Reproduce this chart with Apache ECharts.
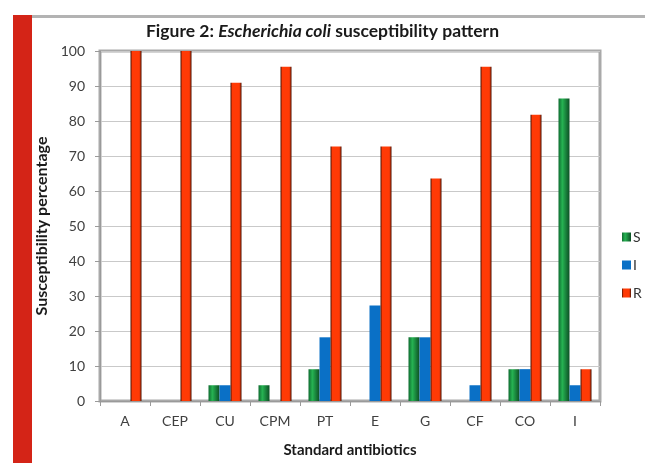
<!DOCTYPE html>
<html>
<head>
<meta charset="utf-8">
<script src="https://cdn.jsdelivr.net/npm/echarts@6/dist/echarts.min.js"></script>
<style>
html, body { margin: 0; padding: 0; background: #fff; }
#chart { width: 645px; height: 463px; }
</style>
</head>
<body>
<div id="chart"></div>
<script>
// antibiotics on the x axis
var categories = ['A', 'CEP', 'CU', 'CPM', 'PT', 'E', 'G', 'CF', 'CO', 'I'];
// susceptibility percentages (n = 22 isolates)
var sensitive = [0, 0, 4.5, 4.5, 9.1, 0, 18.2, 0, 9.1, 86.4];
var intermediate = [0, 0, 4.5, 0, 18.2, 27.3, 18.2, 4.5, 9.1, 4.5];
var resistant = [100, 100, 90.9, 95.5, 72.7, 72.7, 63.6, 95.5, 81.8, 9.1];
var yTicks = [0, 10, 20, 30, 40, 50, 60, 70, 80, 90, 100];

var myChart = echarts.init(document.getElementById('chart'));

// bars have darker edges, like the shaded columns of the original
function barGrad(stops) {
    return new echarts.graphic.LinearGradient(0, 0, 1, 0, stops);
}

var option = {
    backgroundColor: '#fff',
    textStyle: { fontFamily: 'Lato' },
    graphic: [
        // red band on the left and grey rule at the top
        { type: 'rect', shape: { x: 13, y: 15, width: 19, height: 448 }, style: { fill: '#d42417' }, silent: true },
        { type: 'rect', shape: { x: 32, y: 15, width: 613, height: 3 }, style: { fill: '#b3b3b3' }, silent: true }
    ],
    title: {
        text: '{a|Figure 2: }{b|Escherichia coli}{a| susceptibility pattern}',
        left: 'center',
        top: 22,
        padding: 0,
        textStyle: {
            rich: {
                a: { fontFamily: 'Lato', fontSize: 17.5, fontWeight: 'bold', color: '#1a1a1a' },
                b: { fontFamily: 'Lato', fontSize: 17.5, fontWeight: 'bold', fontStyle: 'italic', color: '#1a1a1a' }
            }
        }
    },
    legend: {
        orient: 'vertical',
        left: 617,
        top: 225,
        itemWidth: 9,
        itemHeight: 9,
        itemGap: 14,
        icon: 'rect',
        textStyle: { fontSize: 14, color: '#333', padding: [0, 0, 0, -3] },
        data: ['S', 'I', 'R']
    },
    grid: {
        left: 100,
        right: 45,
        top: 51,
        bottom: 60,
        show: true,
        borderColor: '#a9a9a9',
        borderWidth: 3
    },
    xAxis: {
        type: 'category',
        data: categories,
        name: 'Standard antibiotics',
        nameLocation: 'middle',
        nameGap: 42,
        nameTextStyle: { fontSize: 15, fontWeight: 'bold', color: '#1a1a1a' },
        axisLine: { lineStyle: { color: '#9a9a9a', width: 1 } },
        axisTick: { show: true, length: 5, lineStyle: { color: '#9a9a9a' } },
        axisLabel: { fontSize: 14, color: '#404040', margin: 13 }
    },
    yAxis: {
        type: 'value',
        min: yTicks[0],
        max: yTicks[yTicks.length - 1],
        interval: 10,
        name: 'Susceptibility percentage',
        nameLocation: 'middle',
        nameGap: 48,
        nameTextStyle: { fontSize: 16, fontWeight: 'bold', color: '#1a1a1a' },
        axisLine: { show: true, lineStyle: { color: '#9a9a9a', width: 1 } },
        axisTick: { show: true, length: 5, lineStyle: { color: '#9a9a9a' } },
        axisLabel: { fontSize: 14, color: '#404040', margin: 15 },
        splitLine: { lineStyle: { color: '#c9c9c9' } }
    },
    series: [
        {
            name: 'S',
            type: 'bar',
            data: sensitive,
            barWidth: 11,
            barGap: '0%',
            itemStyle: {
                color: barGrad([
                    { offset: 0, color: '#0f6b30' },
                    { offset: 0.35, color: '#26b352' },
                    { offset: 1, color: '#0c4f24' }
                ])
            }
        },
        {
            name: 'I',
            type: 'bar',
            data: intermediate,
            barWidth: 11,
            barGap: '0%',
            itemStyle: { color: '#0a70c6' }
        },
        {
            name: 'R',
            type: 'bar',
            data: resistant,
            barWidth: 11,
            barGap: '0%',
            itemStyle: {
                color: barGrad([
                    { offset: 0, color: '#4a1204' },
                    { offset: 0.18, color: '#ff3a05' },
                    { offset: 0.8, color: '#ff3a05' },
                    { offset: 1, color: '#4a1204' }
                ])
            }
        }
    ]
};
myChart.setOption(option);
window.addEventListener('resize', function () {
    myChart.resize();
});
</script>
</body>
</html>
